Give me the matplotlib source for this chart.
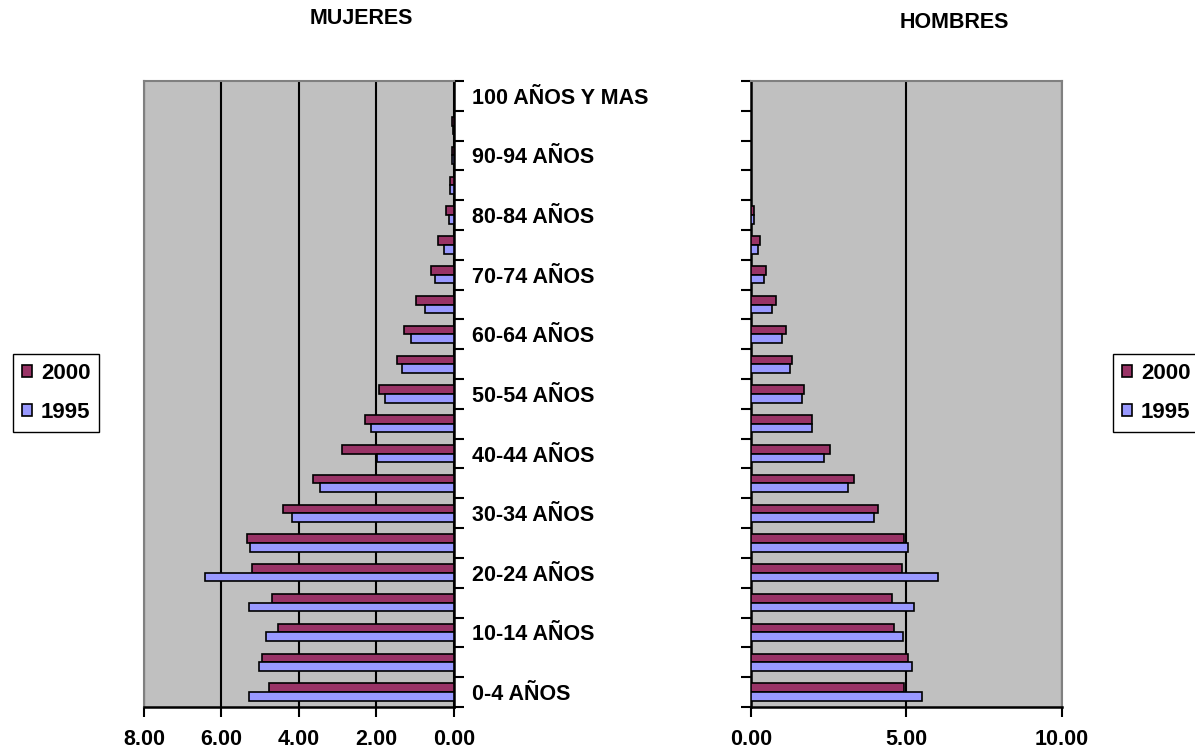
import numpy as np
import matplotlib
matplotlib.use("Agg")
import matplotlib.pyplot as plt

plt.rcParams['font.family'] = ['Liberation Sans', 'DejaVu Sans']
plt.rcParams['font.weight'] = 'bold'

# grupos de edad, de abajo hacia arriba
edades = ['0-4 AÑOS', '5-9 AÑOS', '10-14 AÑOS', '15-19 AÑOS', '20-24 AÑOS',
          '25-29 AÑOS', '30-34 AÑOS', '35-39 AÑOS', '40-44 AÑOS', '45-49 AÑOS',
          '50-54 AÑOS', '55-59 AÑOS', '60-64 AÑOS', '65-69 AÑOS', '70-74 AÑOS',
          '75-79 AÑOS', '80-84 AÑOS', '85-89 AÑOS', '90-94 AÑOS', '95-99 AÑOS',
          '100 AÑOS Y MAS']

muj_2000 = [4.78, 4.95, 4.53, 4.69, 5.20, 5.35, 4.42, 3.65, 2.88, 2.30, 1.94,
            1.47, 1.28, 0.97, 0.60, 0.41, 0.21, 0.10, 0.06, 0.05, 0.0]
muj_1995 = [5.30, 5.04, 4.84, 5.30, 6.43, 5.26, 4.17, 3.45, 1.99, 2.15, 1.79,
            1.33, 1.11, 0.75, 0.49, 0.26, 0.14, 0.09, 0.06, 0.03, 0.0]
hom_2000 = [4.93, 5.06, 4.61, 4.54, 4.87, 4.93, 4.09, 3.33, 2.56, 1.97, 1.71,
            1.33, 1.14, 0.81, 0.49, 0.30, 0.11, 0.0, 0.0, 0.0, 0.0]
hom_1995 = [5.50, 5.18, 4.88, 5.25, 6.02, 5.05, 3.97, 3.13, 2.36, 1.97, 1.65,
            1.26, 1.01, 0.69, 0.44, 0.24, 0.11, 0.0, 0.0, 0.0, 0.0]

c2000 = '#993366'
c1995 = '#9999FF'
fondo = '#C0C0C0'
fs = 15.5

fig = plt.figure(figsize=(11.95, 7.49), dpi=100)
axm = fig.add_axes([0.1205, 0.0561, 0.2594, 0.8358])
axh = fig.add_axes([0.6282, 0.0561, 0.2605, 0.8358])

y = np.arange(len(edades))
h = 0.29

for ax, v00, v95 in [(axm, muj_2000, muj_1995), (axh, hom_2000, hom_1995)]:
    ax.set_facecolor(fondo)
    b1 = ax.barh(y + h/2, v00, height=h, color=c2000, edgecolor='black', linewidth=1.2, zorder=3)
    b2 = ax.barh(y - h/2, v95, height=h, color=c1995, edgecolor='black', linewidth=1.2, zorder=3)
    ax.set_ylim(-0.5, len(edades) - 0.5)
    ax.set_yticks(np.arange(len(edades) + 1) - 0.5)
    ax.set_yticklabels([])
    ax.xaxis.grid(True, color='black', linewidth=1.5, zorder=1)
    ax.tick_params(axis='x', direction='out', length=7, width=1.5, pad=8.5, labelsize=fs)
    ax.tick_params(axis='y', direction='out', length=7, width=1.5)
    for s in ax.spines.values():
        s.set_color('#808080')
        s.set_linewidth(1.5)
    ax.spines['bottom'].set_color('black')
    ax.spines['bottom'].set_linewidth(1.8)

# mujeres: eje invertido, etiquetas a la derecha
axm.set_xlim(8, 0)
axm.set_xticks([8, 6, 4, 2, 0])
axm.set_xticklabels(['%.2f' % t for t in [8, 6, 4, 2, 0]], fontweight='bold')
axm.yaxis.tick_right()
axm.spines['right'].set_color('black')
axm.spines['right'].set_linewidth(1.8)
axm.set_yticks(y[::2], minor=True)
axm.set_yticklabels(edades[::2], minor=True, fontsize=fs, fontweight='bold')
axm.tick_params(axis='y', which='minor', length=0, pad=13)

# hombres
axh.set_xlim(0, 10)
axh.set_xticks([0, 5, 10])
axh.set_xticklabels(['%.2f' % t for t in [0, 5, 10]], fontweight='bold')
axh.spines['left'].set_color('black')
axh.spines['left'].set_linewidth(1.8)

fig.text(0.302, 0.975, 'MUJERES', ha='center', va='center', fontsize=fs, fontweight='bold')
fig.text(0.799, 0.970, 'HOMBRES', ha='center', va='center', fontsize=fs, fontweight='bold')

for x0 in [0.0109, 0.9314]:
    fig.legend([b1, b2], ['2000', '1995'], loc='upper left', bbox_to_anchor=(x0, 0.5274),
               borderaxespad=0, fancybox=False, edgecolor='black', framealpha=1,
               handlelength=0.45, handleheight=0.45, handletextpad=0.4, borderpad=0.4,
               labelspacing=0.8, prop={'size': 16, 'weight': 'bold'})

fig.savefig('out.png', dpi=100)
